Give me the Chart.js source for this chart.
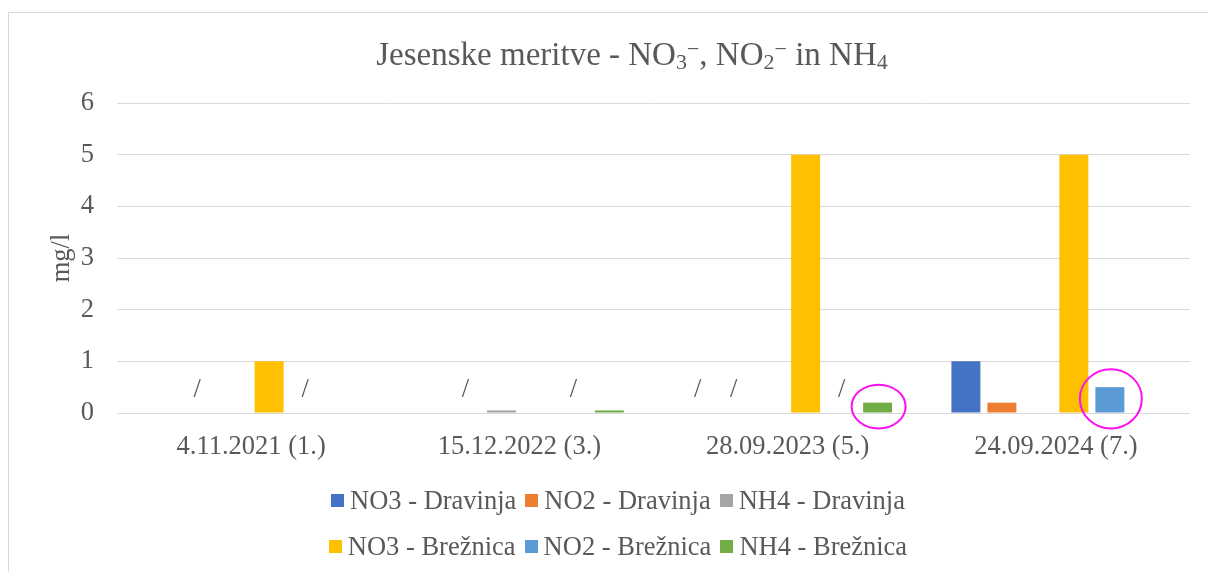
<!DOCTYPE html>
<html>
<head>
<meta charset="utf-8">
<script src="https://cdn.jsdelivr.net/npm/chart.js@4.4.1/dist/chart.umd.min.js"></script>
<style>
  body { margin: 0; background: #fff; overflow: hidden; font-family: "Liberation Serif", "Times New Roman", serif; }
  #frame { position: absolute; left: 8px; top: 12px; width: 1248px; height: 600px; border: 1px solid #d9d9d9; box-sizing: border-box; }
  #plot { position: absolute; left: 0; top: 0; width: 1246px; height: 470px; }
  #legend { position: absolute; left: 0; top: 464px; width: 1218px; color: #595959; font-size: 26.5px; }
  .row { display: flex; justify-content: center; align-items: center; height: 46px; }
  .item { display: flex; align-items: center; margin: 0 4.5px; white-space: nowrap; }
  .box { width: 13px; height: 13px; margin-right: 6px; }
</style>
</head>
<body>
<div id="frame">
  <div id="plot"><canvas id="chart"></canvas></div>
  <div id="legend"></div>
</div>
<script>
// categories (measurement dates)
const categories = ['4.11.2021 (1.)', '15.12.2022 (3.)', '28.09.2023 (5.)', '24.09.2024 (7.)'];

// series values in mg/l, null = not measured (shown as "/")
const no3Dravinja = [0, 0, null, 1];
const no2Dravinja = [null, null, null, 0.2];
const nh4Dravinja = [0, 0.05, 0, 0];
const no3Breznica = [1, 0, 5, 5];
const no2Breznica = [null, null, null, 0.5];
const nh4Breznica = [0, 0.05, 0.2, 0];

const seriesLabels = ['NO3 - Dravinja', 'NO2 - Dravinja', 'NH4 - Dravinja', 'NO3 - Brežnica', 'NO2 - Brežnica', 'NH4 - Brežnica'];
const seriesColors = ['#4472C4', '#ED7D31', '#A5A5A5', '#FFC000', '#5B9BD5', '#70AD47'];

const yMax = 6;
const yStep = 1;
const missingMark = '/';

// [dataset, category] bars circled in the original
const highlighted = [[5, 2], [4, 3]];

// title with sub/superscripts: [text, kind]
const titleParts = [
  ['Jesenske meritve - NO', ''], ['3', 'sub'], ['\u2212', 'sup'],
  [', NO', ''], ['2', 'sub'], ['\u2212', 'sup'],
  [' in NH', ''], ['4', 'sub']
];

const textColor = '#595959';
const gridColor = '#d9d9d9';
const fontFamily = '"Liberation Serif", "Times New Roman", serif';

const allSeries = [no3Dravinja, no2Dravinja, nh4Dravinja, no3Breznica, no2Breznica, nh4Breznica];

// Title drawn by hand because of the chemical sub/superscripts
const richTitle = {
  id: 'richTitle',
  afterDraw(chart) {
    const ctx = chart.ctx;
    const big = '33px ' + fontFamily, small = '22px ' + fontFamily;
    ctx.save();
    let total = 0;
    titleParts.forEach(p => { ctx.font = p[1] ? small : big; total += ctx.measureText(p[0]).width; });
    let x = chart.width / 2 - total / 2;
    const base = 52;
    ctx.fillStyle = textColor;
    ctx.textBaseline = 'alphabetic';
    ctx.textAlign = 'left';
    titleParts.forEach(p => {
      ctx.font = p[1] ? small : big;
      let y = base;
      if (p[1] === 'sub') y = base + 4;
      if (p[1] === 'sup') y = base - 9;
      ctx.fillText(p[0], x, y);
      x += ctx.measureText(p[0]).width;
    });
    ctx.restore();
  }
};

// "/" for missing values and the magenta circles
const marks = {
  id: 'marks',
  afterDatasetsDraw(chart) {
    const ctx = chart.ctx;
    const yScale = chart.scales.y;
    ctx.save();
    ctx.font = '26.5px ' + fontFamily;
    ctx.fillStyle = textColor;
    ctx.textAlign = 'center';
    ctx.textBaseline = 'middle';
    chart.data.datasets.forEach((ds, i) => {
      const meta = chart.getDatasetMeta(i);
      ds.data.forEach((v, j) => {
        if (v === null) ctx.fillText(missingMark, meta.data[j].x, yScale.getPixelForValue(0.45));
      });
    });
    ctx.strokeStyle = '#FF10F0';
    ctx.lineWidth = 2;
    highlighted.forEach(([i, j]) => {
      const bar = chart.getDatasetMeta(i).data[j];
      const h = bar.base - bar.y;
      const cy = (bar.y + bar.base) / 2;
      const ry = Math.max(20, h / 2 + 17);
      const rx = h > 15 ? 31 : 27;
      ctx.beginPath();
      ctx.ellipse(bar.x + 1, cy - 1, rx, ry, 0, 0, Math.PI * 2);
      ctx.stroke();
    });
    ctx.restore();
  }
};

const ctx = document.getElementById('chart').getContext('2d');
const chart = new Chart(ctx, {
  type: 'bar',
  data: {
    labels: categories,
    datasets: allSeries.map((d, i) => ({
      label: seriesLabels[i],
      data: d,
      backgroundColor: seriesColors[i],
      borderWidth: 0,
      categoryPercentage: 0.805,
      barPercentage: 0.805
    }))
  },
  options: {
    responsive: true,
    maintainAspectRatio: false,
    animation: false,
    layout: { padding: { top: 90, right: 65, bottom: 0, left: 0 } },
    plugins: {
      legend: { display: false },
      title: { display: false },
      tooltip: { enabled: false }
    },
    scales: {
      x: {
        grid: { display: false },
        border: { display: false },
        ticks: { color: textColor, font: { family: fontFamily, size: 26.5 }, padding: 10 },
        afterFit: s => { s.height = 70; }
      },
      y: {
        min: 0,
        max: yMax,
        grid: { color: gridColor, lineWidth: 1, drawTicks: false },
        border: { display: false },
        ticks: { stepSize: yStep, color: textColor, font: { family: fontFamily, size: 26.5 }, padding: 23 },
        title: { display: true, text: 'mg/l', color: textColor, font: { family: fontFamily, size: 26.5 }, padding: { top: 37, bottom: 0 } },
        afterFit: s => { s.width = 108; }
      }
    }
  },
  plugins: [richTitle, marks]
});

// legend in two rows of three, like the original
const legend = document.getElementById('legend');
[[0, 1, 2], [3, 4, 5]].forEach(row => {
  const r = document.createElement('div');
  r.className = 'row';
  row.forEach(i => {
    const item = document.createElement('div');
    item.className = 'item';
    item.innerHTML = '<span class="box" style="background:' + seriesColors[i] + '"></span>' + seriesLabels[i];
    r.appendChild(item);
  });
  legend.appendChild(r);
});
</script>
</body>
</html>
